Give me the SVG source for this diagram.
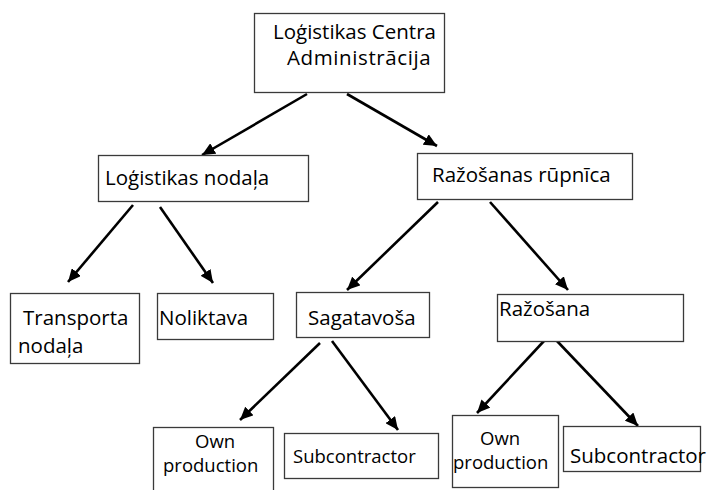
<svg xmlns="http://www.w3.org/2000/svg" width="709" height="490" viewBox="0 0 709 490">
<style>
.box{fill:#fff;stroke:#3a3a3a;stroke-width:1.3}
.t{font-family:"Open Sans","Noto Sans","Liberation Sans",sans-serif;font-size:20.5px;fill:#000}
.s{font-family:"Open Sans","Noto Sans","Liberation Sans",sans-serif;font-size:18.5px;fill:#000}
.c{stroke:#000;stroke-width:2.6;fill:none;marker-end:url(#ah)}
</style>
<defs>
<marker id="ah" markerUnits="userSpaceOnUse" markerWidth="14" markerHeight="12" refX="13" refY="6" orient="auto">
<path d="M0,0 L13,6 L0,12 z" fill="#000"/>
</marker>
</defs>
<rect width="709" height="490" fill="#fff"/>
<g id="connectors">
<line class="c" x1="307" y1="94" x2="202" y2="155"/>
<line class="c" x1="347" y1="94" x2="437" y2="146"/>
<line class="c" x1="133" y1="205" x2="68" y2="282"/>
<line class="c" x1="160" y1="207" x2="213" y2="283"/>
<line class="c" x1="438" y1="202" x2="347" y2="290"/>
<line class="c" x1="490" y1="202" x2="568" y2="290"/>
<line class="c" x1="320" y1="343" x2="240" y2="420"/>
<line class="c" x1="332" y1="341" x2="398" y2="430"/>
<line class="c" x1="544" y1="341" x2="477" y2="413"/>
<line class="c" x1="557" y1="341" x2="638" y2="426"/>
</g>
<g id="n-admin">
<rect class="box" x="254.5" y="13.5" width="190" height="79"/>
<text class="t"><tspan x="273" y="39">Loģistikas Centra</tspan><tspan x="287" y="65" letter-spacing="0.6">Administrācija</tspan></text>
</g>
<g id="n-logistikas">
<rect class="box" x="98.5" y="155.5" width="210" height="46"/>
<text class="t" x="105" y="185">Loģistikas nodaļa</text>
</g>
<g id="n-rupnica">
<rect class="box" x="417.5" y="153.5" width="215" height="46"/>
<text class="t" x="432" y="182">Ražošanas rūpnīca</text>
</g>
<g id="n-transport">
<rect class="box" x="10.5" y="293.5" width="129" height="70"/>
<text class="t"><tspan x="23" y="325">Transporta</tspan><tspan x="18" y="353">nodaļa</tspan></text>
</g>
<g id="n-noliktava">
<rect class="box" x="157.5" y="293.5" width="116" height="46"/>
<text class="t" x="159" y="325">Noliktava</text>
</g>
<g id="n-sagatavosa">
<rect class="box" x="296.5" y="292.5" width="133" height="45"/>
<text class="t" x="308" y="325">Sagatavoša</text>
</g>
<g id="n-razosana">
<rect class="box" x="497.5" y="294.5" width="186" height="47"/>
<text class="t" x="499" y="316">Ražošana</text>
</g>
<g id="n-own1">
<rect class="box" x="153.5" y="427.5" width="120" height="70"/>
<text class="s" x="195" y="448" font-size="19px">Own</text>
<text class="s" x="163" y="472" font-size="18px">production</text>
</g>
<g id="n-sub1">
<rect class="box" x="284.5" y="433.5" width="154" height="45"/>
<text class="s" x="293" y="463">Subcontractor</text>
</g>
<g id="n-own2">
<rect class="box" x="452.5" y="415.5" width="106" height="72"/>
<text class="s" x="480" y="445" font-size="19px">Own</text>
<text class="s" x="453" y="469" font-size="18px">production</text>
</g>
<g id="n-sub2">
<rect class="box" x="563.5" y="426.5" width="137" height="45"/>
<text class="t" x="570" y="463" font-size="19.5px">Subcontractor</text>
</g>
</svg>
